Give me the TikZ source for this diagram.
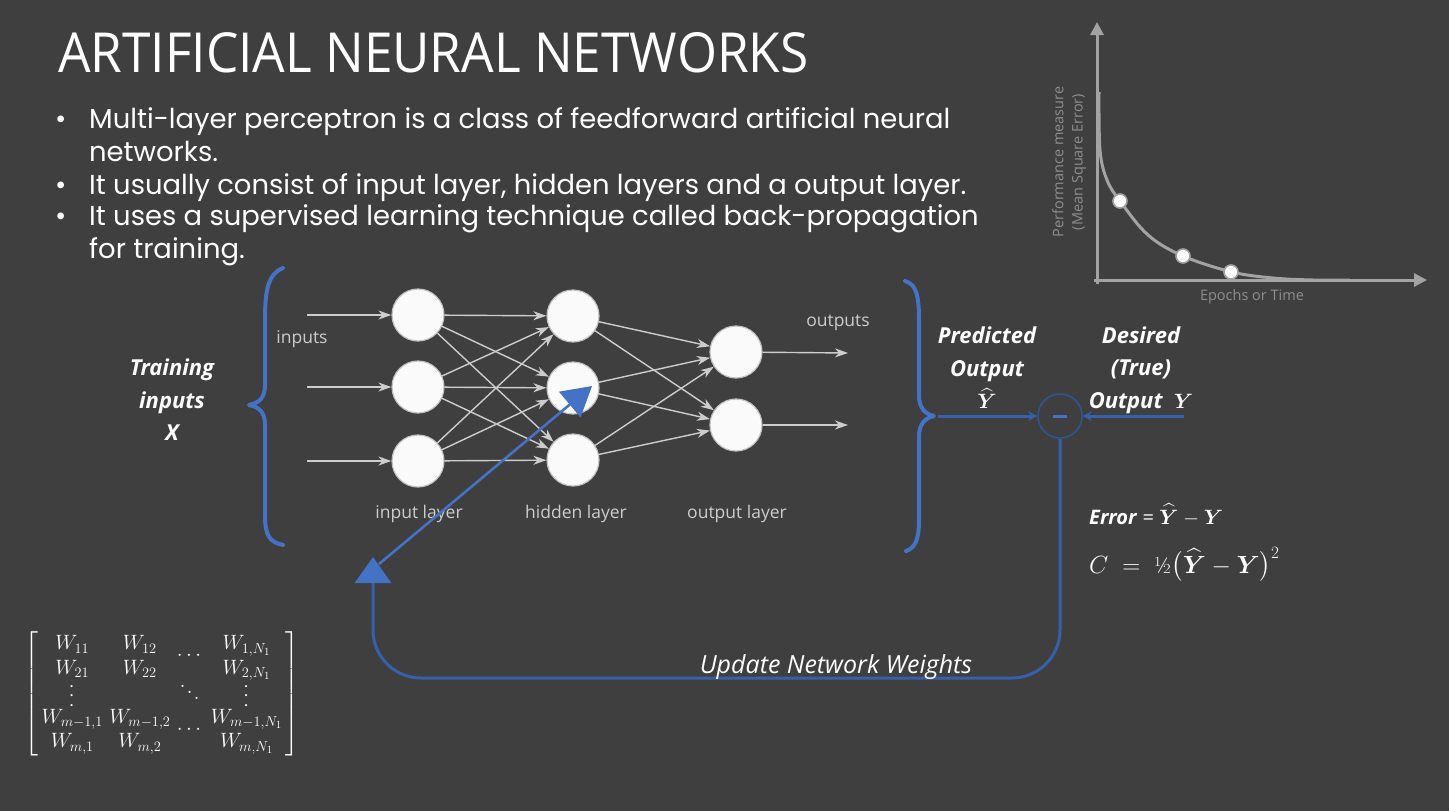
\documentclass[tikz,border=0pt]{standalone}
\usepackage{fontspec}
\usepackage{amsmath,bm}
\usetikzlibrary{arrows.meta,calc}
\newfontfamily\titlefont{Open Sans}
\newfontfamily\bulletfont{Poppins}
\newfontfamily\uifont{Open Sans}

\definecolor{bg}{HTML}{3F3F3F}
\definecolor{brblue}{HTML}{4472C4}
\definecolor{fbblue}{HTML}{3760AC}
\definecolor{ringblue}{HTML}{2F5597}
\definecolor{netgray}{HTML}{CDCDCD}
\definecolor{nodefill}{HTML}{FAFAFA}
\definecolor{nodeedge}{HTML}{C2C2C2}
\definecolor{axgray}{HTML}{A3A3A3}
\definecolor{axtext}{HTML}{8E8E8E}

% dots that scale with the font size
\newcommand{\bigvdots}{\rotatebox[origin=c]{90}{$\cdots$}}
\newcommand{\bigddots}{\rotatebox[origin=c]{-40}{$\cdots$}}

\tikzset{
  neuron/.style={circle, minimum size=52pt, inner sep=0pt, fill=nodefill, draw=nodeedge, line width=1.2pt},
  netarrow/.style={draw=netgray, line width=1.4pt, -{Stealth[length=13pt,width=9pt,inset=4pt]}},
  netlabel/.style={text=netgray, font=\uifont\fontsize{17.5}{19}\selectfont, inner sep=0pt},
  callout/.style={text=white, font=\uifont\bfseries\itshape\fontsize{22}{32.5}\selectfont, align=center, inner sep=0pt},
  bullettext/.style={text=white, font=\bulletfont\fontsize{27.4}{30}\selectfont, anchor=base west, inner sep=0pt},
  bluebrace/.style={draw=brblue, line width=4pt, line cap=round, line join=round},
  fbline/.style={draw=fbblue, line width=3pt},
  axisline/.style={draw=axgray, line width=3pt, -{Triangle[length=13pt,width=13pt]}},
  marker/.style={circle, minimum size=14pt, inner sep=0pt, fill=white, draw=axgray, line width=1.6pt},
  axlabel/.style={text=axtext, font=\uifont\fontsize{14.5}{16}\selectfont, inner sep=0pt},
}

\begin{document}
\begin{tikzpicture}[x=1pt,y=-1pt]
  % slide background
  \fill[bg] (0,0) rectangle (1449,811);
  \useasboundingbox (0,0) rectangle (1449,811);

  % title and bullet list
  \node[anchor=base west, inner sep=0pt, text=white] (title) at (58,72)
    {\resizebox{750pt}{40pt}{\titlefont ARTIFICIAL NEURAL NETWORKS}};
  \foreach \yy in {128,194,225}
    \node[bullettext] at (55,\yy) {•};
  \node[bullettext] (b1) at (89,128) {Multi-layer perceptron is a class of feedforward artificial neural};
  \node[bullettext] (b1b) at (89,161) {networks.};
  \node[bullettext] (b2) at (89,194) {It usually consist of input layer, hidden layers and a output layer.};
  \node[bullettext] (b3) at (89,225) {It uses a supervised learning technique called back-propagation};
  \node[bullettext] (b3b) at (89,258) {for training.};

  % performance curve
  \coordinate (yo) at (1097,284);
  \coordinate (ytop) at (1097,22);
  \coordinate (xo) at (1094,280);
  \coordinate (xend) at (1427,280);
  \draw[axisline] (yo) -- (ytop);
  \draw[axisline] (xo) -- (xend);
  \draw[draw=axgray, line width=3pt] plot[smooth, tension=0.6] coordinates
    {(1099,92) (1100,150) (1107,180) (1120,201) (1148,235) (1183,256) (1232,272) (1273,278) (1313,280) (1350,280)};
  \node[marker] (m1) at (1120,201) {};
  \node[marker] (m2) at (1183,256) {};
  \node[marker] (m3) at (1231,272) {};
  \node[axlabel, rotate=90] (perf) at (1058,162) {Performance measure};
  \node[axlabel, rotate=90] (mse) at (1079,162) {(Mean Square Error)};
  \node[axlabel] (epochs) at (1252,297) {Epochs or Time};

  % training inputs brace
  \draw[bluebrace] (283,268) .. controls (268,274) and (265,290) .. (265,320)
    -- (265,385) .. controls (265,398) and (259,403) .. (249,405)
    .. controls (259,407) and (265,412) .. (265,425)
    -- (265,515) .. controls (265,535) and (269,542) .. (283,545);
  \node[callout] (train) at (172,400) {Training\\inputs\\X};

  % network
  \node[neuron] (i1) at (418,315) {};
  \node[neuron] (i2) at (418,387) {};
  \node[neuron] (i3) at (418,461) {};
  \node[neuron] (h1) at (573,316) {};
  \node[neuron] (h2) at (573,388) {};
  \node[neuron] (h3) at (573,460) {};
  \node[neuron] (o1) at (736,352) {};
  \node[neuron] (o2) at (736,425) {};

  \coordinate (in1) at (307,315);
  \coordinate (in2) at (307,387);
  \coordinate (in3) at (307,461);
  \coordinate (out1) at (848,353);
  \coordinate (out2) at (848,425);
  \draw[netarrow] (in1) -- (i1);
  \draw[netarrow] (in2) -- (i2);
  \draw[netarrow] (in3) -- (i3);
  \foreach \a in {i1,i2,i3}
    \foreach \b in {h1,h2,h3}
      \draw[netarrow] (\a) -- (\b);
  \foreach \a in {h1,h2,h3}
    \foreach \b in {o1,o2}
      \draw[netarrow] (\a) -- (\b);
  \draw[netarrow] (o1) -- (out1);
  \draw[netarrow] (o2) -- (out2);

  \node[netlabel] (inlab) at (302,339) {inputs};
  \node[netlabel] (outlab) at (838,323) {outputs};
  \node[netlabel] (ilay) at (419,514) {input layer};
  \node[netlabel] (hlay) at (576,514) {hidden layer};
  \node[netlabel] (olay) at (737,514) {output layer};

  % predicted output brace
  \draw[bluebrace] (905,281) .. controls (916,284) and (919,295) .. (919,320)
    -- (919,395) .. controls (919,408) and (925,414) .. (934,416)
    .. controls (925,418) and (919,424) .. (919,437)
    -- (919,520) .. controls (919,540) and (915,548) .. (906,551);
  \node[callout] (pred) at (987,368) {Predicted\\Output\\$\bm{\widehat{Y}}$};
  \node[callout] (des) at (1141,370) {Desired\\(True)\\Output\ \ $\bm{Y}$};

  % comparison of predicted and desired output
  \node[circle, minimum size=44pt, inner sep=0pt, draw=ringblue, line width=1.5pt] (minus) at (1060,416) {};
  \draw[brblue, line width=3pt] ([xshift=-7pt]minus.center) -- ([xshift=7pt]minus.center);
  \coordinate (ptip) at (938,416);
  \coordinate (ydes) at (1184,416);
  \draw[fbline, -{Stealth[length=9pt,width=9pt]}] (ptip) -- (minus.west);
  \draw[fbline, -{Stealth[length=9pt,width=9pt]}] (ydes) -- (minus.east);

  % error formulas
  \node[anchor=base west, inner sep=0pt, text=white, font=\uifont\fontsize{20}{22}\selectfont] (err) at (1089,524)
    {\textbf{\textit{Error}} = $\bm{\widehat{Y}} - \bm{Y}$};
  \node[anchor=base west, inner sep=0pt, text=white, font=\fontsize{23}{26}\selectfont] (cost) at (1089,573)
    {$C \;=\; \text{½}\bigl(\bm{\widehat{Y}} - \bm{Y}\bigr)^{2}$};

  % weight update loop
  \coordinate (fb) at (373,557);
  \draw[fbline, rounded corners=48pt, -{Triangle[length=26pt,width=36pt,color=brblue]}]
    (minus.south) -- (1060,678) -- (373,678) -- (fb);
  \node[anchor=base, inner sep=0pt, text=white, font=\uifont\itshape\fontsize{25}{28}\selectfont] (upd) at (836,673)
    {Update Network Weights};
  \coordinate (dg) at (379,564);
  \coordinate (dgtip) at (592,386);
  \draw[draw=brblue, line width=2.6pt, -{Triangle[length=29pt,width=33pt]}] (dg) -- (dgtip);

  % weight matrix
  \node[inner sep=0pt, text=white, font=\fontsize{22.5}{24.5}\selectfont] (wmat) at (162,694) {%
    \setlength{\arraycolsep}{3.2pt}\renewcommand{\arraystretch}{1.0}%
    $\left[\begin{array}{cccc}
    W_{11} & W_{12} & \smash{\lower 1.1ex\hbox{$\cdots$}} & W_{1,N_1}\\
    W_{21} & W_{22} & & W_{2,N_1}\\
    \smash{\bigvdots} & & \smash{\bigddots} & \smash{\bigvdots}\\
    W_{m-1,1} & W_{m-1,2} & \smash{\lower 1.1ex\hbox{$\cdots$}} & W_{m-1,N_1}\\
    W_{m,1} & W_{m,2} & & W_{m,N_1}
  \end{array}\right]$};
\end{tikzpicture}
\end{document}
